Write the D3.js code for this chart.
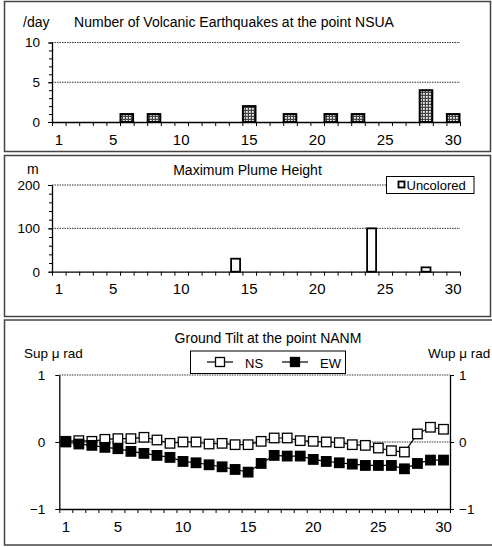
<!DOCTYPE html>
<html><head><meta charset="utf-8">
<script src="https://cdn.jsdelivr.net/npm/d3@7"></script>
<style>
body{margin:0;background:#fff}
svg{display:block}
text{font-family:"Liberation Sans",Arial,sans-serif;fill:#000}
</style></head>
<body><svg id="c" width="492" height="547"></svg>
<script>
// ---------- data ----------
const days = [1,2,3,4,5,6,7,8,9,10,11,12,13,14,15,16,17,18,19,20,21,22,23,24,25,26,27,28,29,30];
const xTickLabels = [1,5,10,15,20,25,30];

const quakeDays   = [6,8,15,18,21,23,28,30];
const quakeCounts = [1,1,2,1,1,1,4,1];
const quakeTicks  = [0,5,10];

const plumeDays    = [14,24,28];
const plumeHeights = [30,100,10];
const plumeTicks   = [0,100,200];

const tiltNS = [0.01,0.02,0.01,0.04,0.05,0.05,0.07,0.03,-0.02,0.0,0.0,-0.03,-0.02,-0.04,-0.04,
                0.01,0.06,0.06,0.02,0.01,0.0,-0.01,-0.04,-0.05,-0.09,-0.13,-0.15,0.12,0.22,0.19];
const tiltEW = [0.0,-0.03,-0.05,-0.08,-0.1,-0.14,-0.17,-0.2,-0.23,-0.29,-0.31,-0.34,-0.37,-0.41,-0.45,
                -0.32,-0.2,-0.21,-0.21,-0.26,-0.29,-0.31,-0.33,-0.35,-0.35,-0.35,-0.4,-0.32,-0.27,-0.27];
const tiltTicks = [-1,0,1];

// ---------- drawing ----------
const svg = d3.select("#c");
const defs = svg.append("defs");
const pat = defs.append("pattern").attr("id","chk").attr("width",3).attr("height",3)
  .attr("patternUnits","userSpaceOnUse");
pat.append("rect").attr("width",3).attr("height",3).attr("fill","#444");
pat.append("rect").attr("x",0).attr("y",0).attr("width",1.8).attr("height",1.8).attr("fill","#eee");

function frame(x,y,w,h){
  svg.append("rect").attr("x",x).attr("y",y).attr("width",w).attr("height",h)
    .attr("fill","none").attr("stroke","#444").attr("stroke-width",1.5);
}
frame(4.5,1.5,486,150);
frame(4.5,155.5,486,161);
frame(4.5,320,520,225);

function categoryAxis(g, x0, x1, yPix){
  const band = d3.scaleBand().domain(days).range([x0,x1]).padding(0);
  const lin = d3.scaleLinear().domain([0.5,30.5]).range([x0,x1]);
  g.append("g").attr("transform",`translate(0,${yPix})`)
    .call(d3.axisBottom(lin).tickValues(d3.range(0.5,31,1)).tickFormat("").tickSize(4).tickSizeOuter(0))
    .call(s=>{s.select(".domain").attr("stroke","#000").attr("stroke-width",1.3);
              s.selectAll(".tick line").attr("stroke","#000");});
  g.append("g").attr("transform",`translate(0,${yPix})`)
    .call(d3.axisBottom(band).tickValues(xTickLabels).tickSize(0).tickPadding(0))
    .call(s=>{s.select(".domain").remove();
              s.selectAll("text").attr("font-size","15px").attr("font-family","Liberation Sans, Arial")
               .attr("dy","0").attr("y",22.5);});
  return band;
}

function leftAxis(g, y, xPix, major, minor){
  g.append("g").attr("transform",`translate(${xPix},0)`)
    .call(d3.axisLeft(y).tickValues(minor).tickFormat("").tickSize(3).tickSizeOuter(0))
    .call(s=>{s.select(".domain").attr("stroke","#000").attr("stroke-width",1.3);});
  g.append("g").attr("transform",`translate(${xPix},0)`)
    .call(d3.axisLeft(y).tickValues(major).tickSize(4).tickPadding(8))
    .call(s=>{s.select(".domain").remove();
              s.selectAll("text").attr("font-size","13.5px").attr("font-family","Liberation Sans, Arial");});
}

function grid(g, y, vals, x0, x1){
  g.selectAll(null).data(vals).join("line")
    .attr("x1",x0).attr("x2",x1).attr("y1",d=>y(d)).attr("y2",d=>y(d))
    .attr("stroke","#333").attr("stroke-width",1).attr("stroke-dasharray","1.5,1");
}

// ---- Panel 1 ----
{
  const g = svg.append("g");
  const X0=52, X1=460;
  const y = d3.scaleLinear().domain([0,10]).range([122,42.5]);
  grid(g, y, [5,10], X0, X1);
  const band = d3.scaleBand().domain(days).range([X0,X1]);
  g.selectAll(null).data(quakeDays.map((d,i)=>({d,v:quakeCounts[i]}))).join("rect")
    .attr("x",p=>band(p.d)+0.5).attr("width",band.bandwidth()-1)
    .attr("y",p=>y(p.v)).attr("height",p=>y(0)-y(p.v))
    .attr("fill","url(#chk)").attr("stroke","#000").attr("stroke-width",2);
  leftAxis(g, y, X0, quakeTicks, d3.range(0,11,1));
  categoryAxis(g, X0, X1, 122);
  g.append("text").attr("x",234).attr("y",26.5).attr("text-anchor","middle").attr("font-size","14px")
    .text("Number of Volcanic Earthquakes at the point NSUA");
  g.append("text").attr("x",23).attr("y",26.5).attr("font-size","14px").text("/day");
}

// ---- Panel 2 ----
{
  const g = svg.append("g");
  const X0=52, X1=460;
  const y = d3.scaleLinear().domain([0,200]).range([271.7,185]);
  grid(g, y, [100,200], X0, X1);
  const band = d3.scaleBand().domain(days).range([X0,X1]);
  const bw = 9;
  g.selectAll(null).data(plumeDays.map((d,i)=>({d,v:plumeHeights[i]}))).join("rect")
    .attr("x",p=>band(p.d)+band.bandwidth()/2-bw/2).attr("width",bw)
    .attr("y",p=>y(p.v)).attr("height",p=>y(0)-y(p.v))
    .attr("fill","#fff").attr("stroke","#000").attr("stroke-width",1.8);
  leftAxis(g, y, X0, plumeTicks, d3.range(0,201,20));
  categoryAxis(g, X0, X1, 271.7);
  g.append("text").attr("x",247.5).attr("y",175).attr("text-anchor","middle").attr("font-size","14px")
    .text("Maximum Plume Height");
  g.append("text").attr("x",27).attr("y",174).attr("font-size","14px").text("m");
  // legend
  g.append("rect").attr("x",386.5).attr("y",176.5).attr("width",87.5).attr("height",17)
    .attr("fill","#fff").attr("stroke","#000").attr("stroke-width",1);
  g.append("rect").attr("x",398.5).attr("y",181.5).attr("width",6).attr("height",6)
    .attr("fill","#fff").attr("stroke","#000").attr("stroke-width",1.8);
  g.append("text").attr("x",406.5).attr("y",189.5).attr("font-size","13px").text("Uncolored");
}

// ---- Panel 3 ----
{
  const g = svg.append("g");
  const X0=59.3, X1=450;
  const y = d3.scaleLinear().domain([-1,1]).range([509,375]);
  grid(g, y, [0,1], X0, X1);
  g.append("g").attr("transform",`translate(${X0},0)`)
    .call(d3.axisLeft(y).tickValues(tiltTicks).tickSize(4).tickPadding(10).tickSizeOuter(0)
      .tickFormat(d=>d<0?"\u2212"+Math.abs(d):d))
    .call(s=>{s.select(".domain").attr("stroke","#000").attr("stroke-width",1.3);
              s.selectAll("text").attr("font-size","13.5px").attr("font-family","Liberation Sans, Arial");});
  g.append("g").attr("transform",`translate(${X1},0)`)
    .call(d3.axisRight(y).tickValues(tiltTicks).tickSize(4).tickPadding(5).tickSizeOuter(0)
      .tickFormat(d=>d<0?"\u2212"+Math.abs(d):d))
    .call(s=>{s.select(".domain").attr("stroke","#000").attr("stroke-width",1.3);
              s.selectAll("text").attr("font-size","13.5px").attr("font-family","Liberation Sans, Arial");});
  const band = categoryAxis(g, X0, X1, 509);
  const cx = d=>band(d)+band.bandwidth()/2;
  const line = d3.line().x((v,i)=>cx(days[i])).y(v=>y(v));
  g.append("path").datum(tiltNS).attr("d",line).attr("fill","none").attr("stroke","#000").attr("stroke-width",1.2);
  g.append("path").datum(tiltEW).attr("d",line).attr("fill","none").attr("stroke","#000").attr("stroke-width",1.2);
  const s=9.5;
  g.selectAll(null).data(tiltNS).join("rect")
    .attr("x",(v,i)=>cx(days[i])-s/2).attr("y",v=>y(v)-s/2).attr("width",s).attr("height",s)
    .attr("fill","#fff").attr("stroke","#000").attr("stroke-width",1.3);
  g.selectAll(null).data(tiltEW).join("rect")
    .attr("x",(v,i)=>cx(days[i])-s/2).attr("y",v=>y(v)-s/2).attr("width",s).attr("height",s)
    .attr("fill","#000").attr("stroke","#000").attr("stroke-width",1.3);
  g.append("text").attr("x",268).attr("y",342.5).attr("text-anchor","middle").attr("font-size","14px")
    .text("Ground Tilt at the point NANM");
  g.append("text").attr("x",24).attr("y",358).attr("font-size","13.5px").text("Sup \u03bc rad");
  g.append("text").attr("x",428).attr("y",358).attr("font-size","13.5px").text("Wup \u03bc rad");
  // legend
  g.append("rect").attr("x",190.5).attr("y",351).attr("width",155).attr("height",22.5)
    .attr("fill","#fff").attr("stroke","#000").attr("stroke-width",1);
  const items=[{n:"NS",f:"#fff",x0:207},{n:"EW",f:"#000",x0:282}];
  items.forEach(it=>{
    g.append("line").attr("x1",it.x0).attr("x2",it.x0+26).attr("y1",362).attr("y2",362)
      .attr("stroke","#000").attr("stroke-width",1.2);
    g.append("rect").attr("x",it.x0+13-4.5).attr("y",362-4.5).attr("width",9).attr("height",9)
      .attr("fill",it.f).attr("stroke","#000").attr("stroke-width",1.3);
    g.append("text").attr("x",it.x0+38).attr("y",367.5).attr("font-size","13px").text(it.n);
  });
}
</script></body></html>
